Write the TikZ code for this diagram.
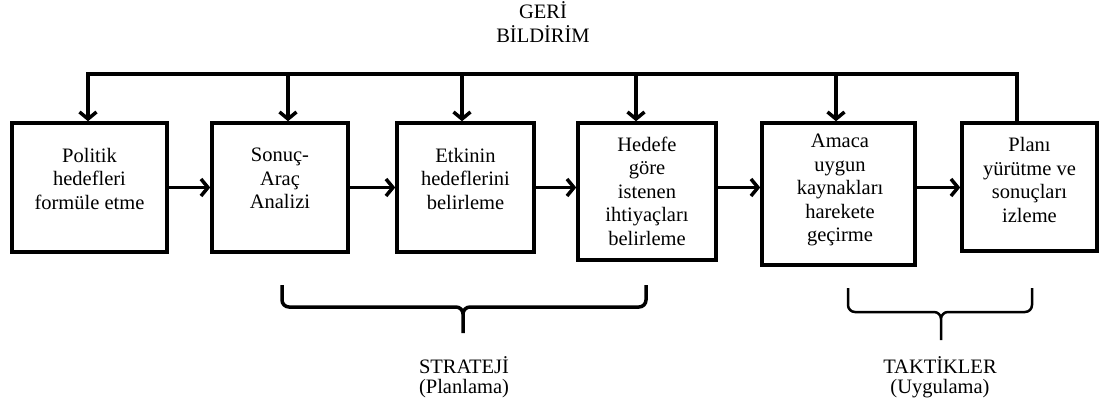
\documentclass[tikz,border=0pt]{standalone}
\usepackage{fontspec}
\setmainfont{Liberation Serif}
\usetikzlibrary{arrows.meta}
\usetikzlibrary{positioning}

\tikzset{
    box/.style={rectangle, draw, line width=3.5pt, inner sep=0pt},
    lbl/.style={align=center, inner sep=0pt, font=\fontsize{20.5}{23.5}\selectfont},
    caption/.style={align=center, inner sep=0pt, font=\fontsize{20.5}{20}\selectfont},
    arr/.style={line width=3.5pt, -{Straight Barb[length=7pt,width=17pt]}},
}

\begin{document}
\begin{tikzpicture}[x=1pt, y=-1pt]
    \useasboundingbox (0, 0) rectangle (1101, 409);

    \draw (89.5, 187.5) node[box, minimum width=155, minimum height=129] (b1) {};
    \draw (280, 187.5) node[box, minimum width=136, minimum height=129] (b2) {};
    \draw (465.5, 187.5) node[box, minimum width=137, minimum height=129] (b3) {};
    \draw (647, 191.5) node[box, minimum width=138, minimum height=137] (b4) {};
    \draw (838.5, 194) node[box, minimum width=153, minimum height=142] (b5) {};
    \draw (1029.5, 187) node[box, minimum width=135, minimum height=128] (b6) {};

    \draw (89.5, 178.5) node[lbl] (t1) {Politik\\hedefleri\\formüle etme};
    \draw (280, 178.5) node[lbl] (t2) {Sonuç-\\Araç\\Analizi};
    \draw (465.5, 178.5) node[lbl] (t3) {Etkinin\\hedeflerini\\belirleme};
    \draw (647, 191) node[lbl] (t4) {Hedefe\\göre\\istenen\\ihtiyaçları\\belirleme};
    \draw (840, 190) node[lbl] (t5) {Amaca\\uygun\\kaynakları\\harekete\\geçirme};
    \draw (1029.5, 180) node[lbl] (t6) {Planı\\yürütme ve\\sonuçları\\izleme};

    \foreach \a/\b in {1/2, 2/3, 3/4, 4/5, 5/6}{
        \draw[arr] (b\a.east |- b1.east) -- (b\b.west |- b1.east);
    }

    % geri bildirim
    \draw (543, 22) node[lbl] (geri) {GERİ\\BİLDİRİM};
    \foreach \x/\b in {88/1, 288/2, 462/3, 636/4, 836/5, 1017/6}{
        \coordinate (f\b) at (\x, 74);
    }
    \draw[arr] (f6 |- b6.north) -- (f6) -- (f1) -- (f1 |- b1.north);
    \foreach \b in {2,3,4,5}{
        \draw[arr] (f\b) -- (f\b |- b\b.north);
    }

    % strateji / taktikler
    \draw[line width=3.5pt, rounded corners=7] (282, 285) -- (282, 307) -- (463, 307) -- (463, 333)
        (646, 285) -- (646, 307) -- (463, 307) -- (463, 333);
    \draw[line width=2.5pt, rounded corners=7] (848, 288) -- (848, 312) -- (941, 312) -- (941, 340)
        (1032, 288) -- (1032, 312) -- (941, 312) -- (941, 340);
    \draw (464, 377) node[caption] (strateji) {STRATEJİ\\(Planlama)};
    \draw (940, 377) node[caption] (taktik) {TAKTİKLER\\(Uygulama)};
\end{tikzpicture}
\end{document}
